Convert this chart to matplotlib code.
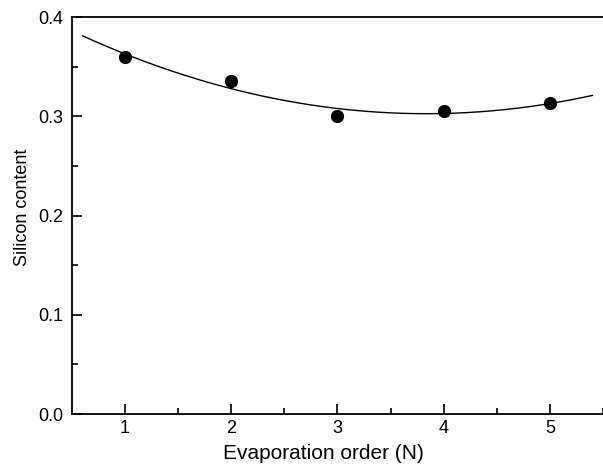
import numpy as np
import matplotlib
matplotlib.use("Agg")
import matplotlib.pyplot as plt
from matplotlib.ticker import MultipleLocator, FormatStrFormatter

plt.rcParams['font.family'] = ['Liberation Sans', 'DejaVu Sans']

order = [1, 2, 3, 4, 5]
silicon = [0.360, 0.336, 0.300, 0.305, 0.313]

fig = plt.figure(figsize=(6.03, 4.70), dpi=100)
ax = fig.add_axes([0.1194, 0.1191, 0.8806, 0.8447])

# quadratic fit through the measured points
coef = np.polyfit(order, silicon, 2)
xs = np.linspace(0.6, 5.4, 200)
ax.plot(xs, np.polyval(coef, xs), color='black', lw=1.0)
ax.plot(order, silicon, 'o', color='black', ms=8.5)

ax.set_xlim(0.5, 5.5)
ax.set_ylim(0.0, 0.4)
ax.xaxis.set_major_locator(MultipleLocator(1))
ax.xaxis.set_minor_locator(MultipleLocator(0.5))
ax.yaxis.set_major_locator(MultipleLocator(0.1))
ax.yaxis.set_minor_locator(MultipleLocator(0.05))
ax.yaxis.set_major_formatter(FormatStrFormatter('%.1f'))
ax.tick_params(which='both', direction='in', top=False, right=False, labelsize=13, width=1.2)
ax.tick_params(which='major', length=7)
ax.tick_params(which='minor', length=4)
ax.tick_params(axis='x', which='major', pad=4.5)
ax.tick_params(axis='y', which='major', pad=6.5)
for s in ax.spines.values():
    s.set_linewidth(1.3)
ax.spines['right'].set_visible(False)

ax.set_xlabel('Evaporation order (N)', fontsize=15)
ax.set_ylabel('Silicon content', fontsize=13)
ax.xaxis.set_label_coords(0.473, -0.076)
ax.yaxis.set_label_coords(-0.078, 0.521)

fig.savefig('out.png', dpi=100)
